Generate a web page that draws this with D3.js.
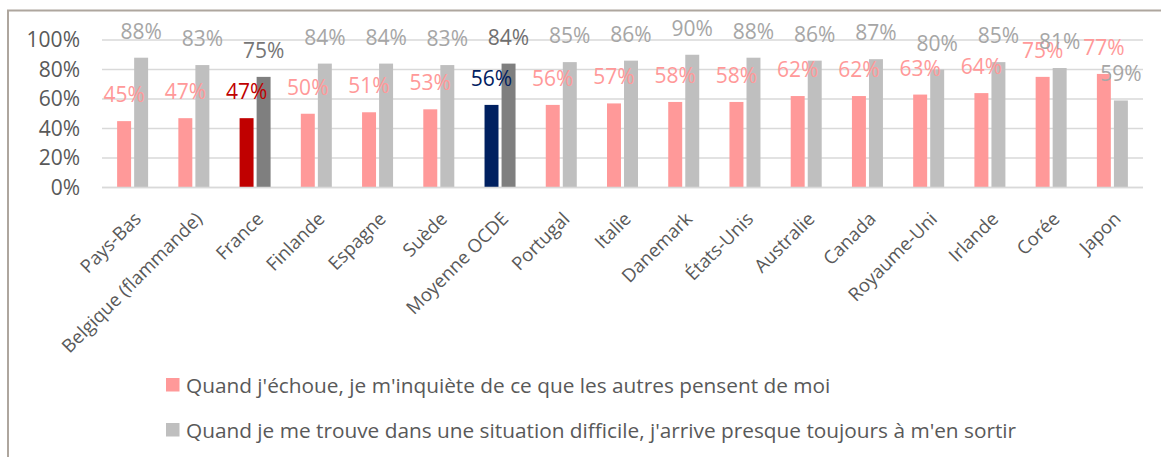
<!DOCTYPE html>
<html>
<head>
<meta charset="utf-8">
<script src="https://cdn.jsdelivr.net/npm/d3@7"></script>
<style>
  html, body { margin: 0; padding: 0; background: #fff; }
  svg { display: block; }
  text { font-family: "Open Sans", "Noto Sans", sans-serif; }
</style>
</head>
<body>
<svg id="chart" width="1161" height="457"></svg>
<script>
const categories = ["Pays-Bas", "Belgique (flammande)", "France", "Finlande", "Espagne", "Suède",
  "Moyenne OCDE", "Portugal", "Italie", "Danemark", "États-Unis", "Australie", "Canada",
  "Royaume-Uni", "Irlande", "Corée", "Japon"];
const worryValues = [45, 47, 47, 50, 51, 53, 56, 56, 57, 58, 58, 62, 62, 63, 64, 75, 77];
const copeValues  = [88, 83, 75, 84, 84, 83, 84, 85, 86, 90, 88, 86, 87, 80, 85, 81, 59];
const seriesNames = [
  "Quand j'échoue, je m'inquiète de ce que les autres pensent de moi",
  "Quand je me trouve dans une situation difficile, j'arrive presque toujours à m'en sortir"
];
const yTicks = [0, 20, 40, 60, 80, 100];

const colors = {
  worry: "#ff9999", cope: "#bfbfbf",
  worryLabel: "#ff9999", copeLabel: "#a6a6a6",
  franceWorry: "#c00000", franceCope: "#7f7f7f",
  oecdWorry: "#002060", oecdCope: "#7f7f7f",
  text: "#595959", grid: "#d9d9d9", frame: "#aea69e"
};
const special = {
  "France": { worry: colors.franceWorry, cope: colors.franceCope, worryLabel: colors.franceWorry, copeLabel: "#767676" },
  "Moyenne OCDE": { worry: colors.oecdWorry, cope: colors.oecdCope, worryLabel: colors.oecdWorry, copeLabel: "#6f6f6f" }
};

const svg = d3.select("#chart");
svg.append("rect").attr("width", 1161).attr("height", 457).attr("fill", "#fff");

// frame (top and left visible)
svg.append("path")
  .attr("d", "M8,457 L8,10.5 L1161,10.5")
  .attr("fill", "none").attr("stroke", colors.frame).attr("stroke-width", 2);

const plot = { left: 102, right: 1143, top: 40, bottom: 187.5 };
const x0 = d3.scaleBand().domain(categories).range([plot.left, plot.right]).padding(0);
const x1 = d3.scaleBand().domain(["worry", "cope"])
  .range([x0.bandwidth() / 2 - 15.5, x0.bandwidth() / 2 + 15.5]).paddingInner(0.18);
const y = d3.scaleLinear().domain([0, 100]).range([plot.bottom, plot.top]);

// gridlines
svg.append("g").selectAll("line").data(yTicks).join("line")
  .attr("x1", plot.left).attr("x2", plot.right)
  .attr("y1", d => y(d)).attr("y2", d => y(d))
  .attr("stroke", colors.grid).attr("stroke-width", 1.5);

// y axis labels
const yAxis = d3.axisLeft(y).tickValues(yTicks).tickFormat(d => d + "%").tickSize(0).tickPadding(0);
const yg = svg.append("g").attr("transform", `translate(${plot.left - 22},0)`).call(yAxis);
yg.select(".domain").remove();
yg.selectAll("text").attr("font-size", 21).attr("fill", colors.text)
  .attr("font-family", '"Open Sans", sans-serif');

const data = categories.map((c, i) => ({ cat: c, worry: worryValues[i], cope: copeValues[i] }));

const groups = svg.append("g").selectAll("g").data(data).join("g")
  .attr("transform", d => `translate(${x0(d.cat)},0)`);

["worry", "cope"].forEach(key => {
  groups.append("rect")
    .attr("x", x1(key)).attr("width", x1.bandwidth())
    .attr("y", d => y(d[key])).attr("height", d => y(0) - y(d[key]))
    .attr("fill", d => special[d.cat] ? special[d.cat][key] : colors[key]);
});

// baseline axis line drawn over bars
svg.append("line").attr("x1", plot.left).attr("x2", plot.right)
  .attr("y1", y(0)).attr("y2", y(0)).attr("stroke", colors.grid).attr("stroke-width", 1.5);

// data labels
["worry", "cope"].forEach(key => {
  groups.append("text")
    .attr("x", x1(key) + x1.bandwidth() / 2)
    .attr("y", d => y(d[key]) - 19)
    .attr("text-anchor", "middle")
    .attr("font-size", 21)
    .attr("fill", d => special[d.cat] ? special[d.cat][key + "Label"] : colors[key + "Label"])
    .text(d => d[key] + "%");
});

// x axis labels
const xAxis = d3.axisBottom(x0).tickSize(0).tickPadding(0);
const xg = svg.append("g").attr("transform", `translate(0,${y(0)})`).call(xAxis);
xg.select(".domain").remove();
xg.selectAll(".tick text")
  .attr("font-size", 18.5).attr("fill", colors.text)
  .attr("font-family", '"Open Sans", sans-serif')
  .attr("text-anchor", "end")
  .attr("x", 0).attr("y", 0).attr("dy", "0.35em")
  .attr("transform", "translate(5,28) rotate(-45)");

// legend
const legend = svg.append("g");
const legendRows = [
  { name: seriesNames[0], color: colors.worry, y: 393 },
  { name: seriesNames[1], color: colors.cope, y: 438 }
];
legendRows.forEach(r => {
  legend.append("rect").attr("x", 166).attr("y", r.y - 15).attr("width", 13.5).attr("height", 13.5)
    .attr("fill", r.color);
  legend.append("text").attr("x", 186).attr("y", r.y)
    .attr("font-size", 20.8).attr("fill", colors.text).text(r.name);
});
</script>
</body>
</html>
